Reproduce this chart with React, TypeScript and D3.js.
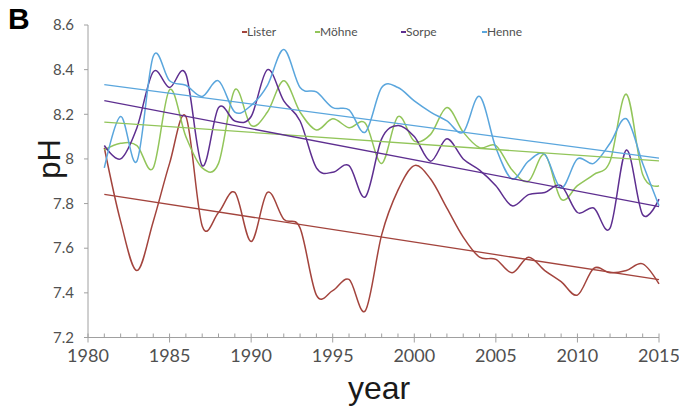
import React, { useEffect, useRef } from "react";
import * as d3 from "d3";

// yearly pH values
const years = [
  1981, 1982, 1983, 1984, 1985, 1986, 1987, 1988, 1989, 1990, 1991, 1992,
  1993, 1994, 1995, 1996, 1997, 1998, 1999, 2000, 2001, 2002, 2003, 2004,
  2005, 2006, 2007, 2008, 2009, 2010, 2011, 2012, 2013, 2014, 2015,
];

const lister = [
  8.05, 7.72, 7.5, 7.72, 7.98, 8.19, 7.7, 7.76, 7.85, 7.63, 7.85, 7.73,
  7.69, 7.39, 7.41, 7.46, 7.32, 7.66, 7.86, 7.97, 7.91, 7.78, 7.65, 7.56,
  7.55, 7.49, 7.56, 7.5, 7.45, 7.39, 7.51, 7.49, 7.5, 7.53, 7.44,
];

const moehne = [
  8.04, 8.07, 8.06, 7.96, 8.31, 8.1, 7.96, 7.98, 8.31, 8.15, 8.21, 8.35,
  8.21, 8.13, 8.18, 8.14, 8.16, 7.98, 8.19, 8.08, 8.11, 8.23, 8.12, 8.05,
  8.06, 7.95, 7.9, 8.02, 7.82, 7.88, 7.93, 7.99, 8.29, 7.93, 7.88,
];

const sorpe = [
  8.06, 8.0, 8.14, 8.39, 8.32, 8.38, 7.97, 8.23, 8.17, 8.19, 8.4, 8.26,
  8.17, 7.96, 7.94, 7.97, 7.83, 8.09, 8.15, 8.1, 7.99, 8.09, 8.0, 7.95,
  7.88, 7.79, 7.84, 7.85, 7.88, 7.76, 7.78, 7.69, 8.04, 7.75, 7.82,
];

const henne = [
  7.96, 8.19, 7.99, 8.46, 8.35, 8.33, 8.28, 8.35, 8.21, 8.24, 8.33, 8.49,
  8.32, 8.3, 8.23, 8.22, 8.12, 8.32, 8.32, 8.26, 8.21, 8.17, 8.12, 8.28,
  8.05, 7.91, 7.99, 8.02, 7.87, 8.0, 7.98, 8.07, 8.18, 7.98, 7.79,
];

const seriesNames = ["Lister", "Möhne", "Sorpe", "Henne"];
const seriesValues = [lister, moehne, sorpe, henne];
const seriesColors = ["#A3443D", "#92C55A", "#5E2F90", "#5AA6DD"];

const yTicks = [7.2, 7.4, 7.6, 7.8, 8, 8.2, 8.4, 8.6];
const xMajor = [1980, 1985, 1990, 1995, 2000, 2005, 2010, 2015];

// least squares line, same as the spreadsheet trendline
const fitLine = (xs: number[], ys: number[]) => {
  const mx = d3.mean(xs) as number;
  const my = d3.mean(ys) as number;
  let num = 0;
  let den = 0;
  xs.forEach((x, i) => {
    num += (x - mx) * (ys[i] - my);
    den += (x - mx) * (x - mx);
  });
  const slope = num / den;
  return (x: number) => my + slope * (x - mx);
};

const App = () => {
  const ref = useRef<SVGSVGElement>(null);

  useEffect(() => {
    const width = 679;
    const height = 410;
    const svg = d3.select(ref.current);
    svg.selectAll("*").remove();

    const x = d3.scaleLinear().domain([1980, 2015]).range([88, 659]);
    const y = d3.scaleLinear().domain([7.2, 8.6]).range([337.5, 25]);
    const axisColor = "#a0a0a0";
    const labelColor = "#505050";
    const font = "Lato, 'Open Sans', sans-serif";

    // y axis
    svg
      .append("line")
      .attr("x1", x(1980))
      .attr("x2", x(1980))
      .attr("y1", y(8.6))
      .attr("y2", y(7.2))
      .attr("stroke", axisColor);
    yTicks.forEach((t) => {
      svg
        .append("line")
        .attr("x1", x(1980) - 4)
        .attr("x2", x(1980))
        .attr("y1", y(t))
        .attr("y2", y(t))
        .attr("stroke", axisColor);
      svg
        .append("text")
        .attr("x", 74)
        .attr("y", y(t))
        .attr("dy", "0.35em")
        .attr("text-anchor", "end")
        .attr("font-family", font)
        .attr("font-size", 15)
        .attr("fill", labelColor)
        .text(String(+t.toFixed(1)));
    });

    // x axis with yearly minor ticks
    svg
      .append("line")
      .attr("x1", x(1980))
      .attr("x2", x(2015))
      .attr("y1", y(7.2))
      .attr("y2", y(7.2))
      .attr("stroke", axisColor);
    d3.range(1980, 2016).forEach((yr) => {
      const major = xMajor.includes(yr);
      svg
        .append("line")
        .attr("x1", x(yr))
        .attr("x2", x(yr))
        .attr("y1", y(7.2) - 4)
        .attr("y2", y(7.2) + (major ? 5 : 0))
        .attr("stroke", axisColor);
    });
    xMajor.forEach((yr) => {
      svg
        .append("text")
        .attr("x", x(yr))
        .attr("y", 362)
        .attr("text-anchor", "middle")
        .attr("font-family", font)
        .attr("font-size", 18)
        .attr("fill", labelColor)
        .text(yr);
    });

    // smoothed series
    const line = d3
      .line<number>()
      .x((d, i) => x(years[i]))
      .y((d) => y(d))
      .curve(d3.curveCardinal.tension(0));

    seriesValues.forEach((vals, i) => {
      svg
        .append("path")
        .attr("d", line(vals))
        .attr("fill", "none")
        .attr("stroke", seriesColors[i])
        .attr("stroke-width", 1.5);
    });

    // linear trendlines
    seriesValues.forEach((vals, i) => {
      const f = fitLine(years, vals);
      svg
        .append("line")
        .attr("x1", x(years[0]))
        .attr("x2", x(years[years.length - 1]))
        .attr("y1", y(f(years[0])))
        .attr("y2", y(f(years[years.length - 1])))
        .attr("stroke", seriesColors[i])
        .attr("stroke-width", 1.3);
    });

    // legend
    const legendX = [242, 315, 401, 482];
    seriesNames.forEach((name, i) => {
      const g = svg.append("g").attr("transform", `translate(${legendX[i]},32)`);
      g.append("line")
        .attr("x1", 0)
        .attr("x2", 5)
        .attr("y1", 0)
        .attr("y2", 0)
        .attr("stroke", seriesColors[i])
        .attr("stroke-width", 2);
      g.append("text")
        .attr("x", 5)
        .attr("y", 0)
        .attr("dy", "0.35em")
        .attr("font-family", font)
        .attr("font-size", 12)
        .attr("fill", labelColor)
        .text(name);
    });

    // axis titles and panel letter
    svg
      .append("text")
      .attr("transform", `translate(60,159) rotate(-90)`)
      .attr("text-anchor", "middle")
      .attr("font-family", "Arial, 'Liberation Sans', sans-serif")
      .attr("font-size", 31)
      .attr("fill", "#1a1a1a")
      .text("pH");
    svg
      .append("text")
      .attr("x", 379)
      .attr("y", 399)
      .attr("text-anchor", "middle")
      .attr("font-family", "Arial, 'Liberation Sans', sans-serif")
      .attr("font-size", 32)
      .attr("fill", "#1a1a1a")
      .text("year");
    svg
      .append("text")
      .attr("x", 8)
      .attr("y", 29)
      .attr("font-family", "Arial, 'Liberation Sans', sans-serif")
      .attr("font-weight", "bold")
      .attr("font-size", 30)
      .attr("fill", "#000")
      .text("B");

    svg.attr("width", width).attr("height", height);
  }, []);

  return (
    <div style={{ position: "absolute", left: 0, top: 0, background: "#fff" }}>
      <svg ref={ref} width={679} height={410} style={{ display: "block" }} />
    </div>
  );
};

export default App;
